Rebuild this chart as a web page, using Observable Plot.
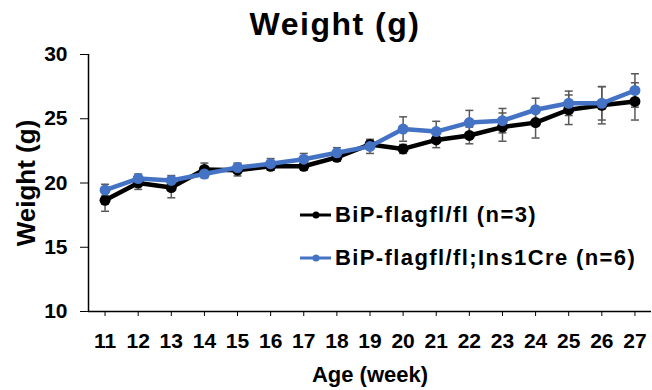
<!DOCTYPE html>
<html>
<head>
<meta charset="utf-8">
<script src="https://cdn.jsdelivr.net/npm/d3@7"></script>
<script src="https://cdn.jsdelivr.net/npm/@observablehq/plot@0.6"></script>
<style>
  html, body { margin: 0; padding: 0; background: #fff; }
  #wrap { position: relative; width: 652px; height: 390px; font-family: "Liberation Sans", Arial, sans-serif; }
  #title { position: absolute; left: 0; top: 8px; width: 652px; text-align: center; padding-left: 18px; box-sizing: border-box;
           font-size: 32px; line-height: 32px; font-weight: bold; letter-spacing: 1.5px; color: #000; }
  #legend { position: absolute; left: 300px; top: 0; }
  .row { position: absolute; left: 0; height: 24px; display: flex; align-items: center; white-space: nowrap;
         font-size: 22px; font-weight: bold; letter-spacing: 1.4px; color: #000; }
  .row svg { margin-right: 4px; }
</style>
</head>
<body>
<div id="wrap">
  <div id="chart"></div>
  <div id="title">Weight (g)</div>
  <div id="legend"></div>
</div>
<script>
// ---- data ----
const weeks = [11, 12, 13, 14, 15, 16, 17, 18, 19, 20, 21, 22, 23, 24, 25, 26, 27];
const yTicks = [10, 15, 20, 25, 30];
const seriesNames = ["BiP-flagfl/fl (n=3)", "BiP-flagfl/fl;Ins1Cre (n=6)"];
const seriesColors = ["#000000", "#4472C4"];
const ctrlMean = [18.65, 20.0, 19.65, 21.05, 21.0, 21.3, 21.3, 22.0, 23.0, 22.65, 23.35, 23.7, 24.35, 24.7, 25.7, 26.05, 26.35];
const ctrlSem  = [0.85, 0.5, 0.8, 0.5, 0.45, 0.3, 0.3, 0.3, 0.35, 0.35, 0.6, 0.65, 1.1, 1.2, 1.15, 1.45, 1.45];
const creMean  = [19.45, 20.35, 20.2, 20.7, 21.2, 21.5, 21.85, 22.35, 22.85, 24.2, 24.0, 24.7, 24.85, 25.7, 26.2, 26.2, 27.2];
const creSem   = [0.45, 0.35, 0.38, 0.3, 0.35, 0.4, 0.45, 0.4, 0.55, 0.95, 0.8, 0.95, 0.95, 0.9, 0.95, 1.3, 1.3];

const rows = [];
[[ctrlMean, ctrlSem], [creMean, creSem]].forEach(([m, s], k) => {
  weeks.forEach((w, i) => rows.push({week: w, mean: m[i], lo: m[i] - s[i], hi: m[i] + s[i], series: seriesNames[k], k}));
});

const capSymbol = {
  draw(ctx, size) {
    const r = Math.sqrt(size / Math.PI);
    ctx.moveTo(-r, 0);
    ctx.lineTo(r, 0);
  }
};

const font = "Liberation Sans, Arial, sans-serif";
const errColor = "#595959";

const marks = [
  Plot.ruleY([10], {stroke: "#000", strokeWidth: 1.5}),
  Plot.ruleX([weeks[0] - 0.5], {stroke: "#000", strokeWidth: 1.5}),
  Plot.axisY({ticks: yTicks, tickSize: 8, tickPadding: 13, fontSize: 20, fontWeight: "bold", label: null, tickFormat: d => d}),
  Plot.axisX({ticks: weeks, tickSize: 5, tickPadding: 17, fontSize: 20, fontWeight: "bold", label: null, tickFormat: d => d}),
  Plot.ruleX(rows, {x: "week", y1: "lo", y2: "hi", stroke: errColor, strokeWidth: 1.5}),
  Plot.dot(rows, {x: "week", y: "lo", symbol: capSymbol, r: 4, stroke: errColor, strokeWidth: 1.5, fill: "none"}),
  Plot.dot(rows, {x: "week", y: "hi", symbol: capSymbol, r: 4, stroke: errColor, strokeWidth: 1.5, fill: "none"})
];
seriesNames.forEach((name, k) => {
  const d = rows.filter(r => r.k === k);
  marks.push(Plot.line(d, {x: "week", y: "mean", stroke: seriesColors[k], strokeWidth: 4.5, strokeLinejoin: "round"}));
  marks.push(Plot.dot(d, {x: "week", y: "mean", r: 5.5, fill: seriesColors[k]}));
});
marks.push(Plot.text(["Weight (g)"], {frameAnchor: "left", textAnchor: "middle", lineAnchor: "middle", dx: -62, rotate: -90, fontSize: 26, fontWeight: "bold", fill: "#000"}));
marks.push(Plot.text(["Age (week)"], {frameAnchor: "bottom", textAnchor: "middle", lineAnchor: "middle", dy: 63, fontSize: 22, fontWeight: "bold", fill: "#000"}));

const chart = Plot.plot({
  width: 652,
  height: 390,
  marginLeft: 88,
  marginRight: 1,
  marginTop: 54,
  marginBottom: 79,
  style: {fontFamily: font, color: "#000", background: "#fff", overflow: "visible"},
  x: {type: "linear", domain: [weeks[0] - 0.5, weeks[weeks.length - 1] + 0.5]},
  y: {domain: [yTicks[0], yTicks[yTicks.length - 1]]},
  marks
});
document.getElementById("chart").appendChild(chart);

// enlarge numeric tick labels (inline style overrides attributes)
chart.querySelectorAll("text").forEach(t => {
  if (/^\s*\d+\s*$/.test(t.textContent)) {
    t.style.fontSize = "21px";
    t.style.fontWeight = "bold";
  }
});

// legend
const legend = document.getElementById("legend");
const centers = [215, 258];
seriesNames.forEach((name, k) => {
  const row = document.createElement("div");
  row.className = "row";
  row.style.top = (centers[k] - 12) + "px";
  row.innerHTML = `<svg width="31" height="24"><line x1="0" x2="31" y1="12" y2="12" stroke="${seriesColors[k]}" stroke-width="3"/><circle cx="16" cy="12" r="3.5" fill="${seriesColors[k]}"/></svg><span>${name}</span>`;
  legend.appendChild(row);
});
</script>
</body>
</html>
